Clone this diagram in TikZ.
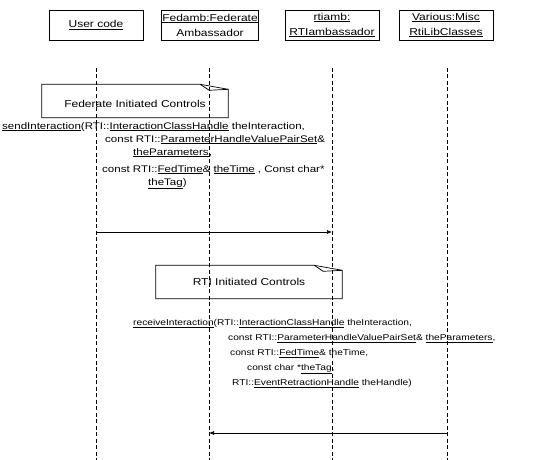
\documentclass[tikz,border=0pt]{standalone}
\usepackage{fontspec}
\setmainfont[FakeStretch=1.2]{Liberation Sans}
\usetikzlibrary{arrows.meta,positioning,calc}

\begin{document}
\begin{tikzpicture}[x=1pt,y=1pt,
  font=\fontsize{10}{15}\selectfont,
  head/.style={draw, line width=0.9pt, minimum width=94pt, minimum height=30pt, align=center, inner sep=1pt},
  life/.style={line width=0.7pt, dash pattern=on 4pt off 2.5pt},
  msg/.style={-{Latex[length=5pt,width=4pt]}, line width=0.7pt},
  note/.style={minimum width=186pt, minimum height=33pt, inner sep=2pt},
  txt/.style={align=left, inner sep=0pt, anchor=north west}
]
\useasboundingbox (0,0) rectangle (533,-460);
% object heads
\node[head] (uc) at (96,-25) {\underline{User code}};
\node[head] (fed) at (210,-25) {\underline{Fedamb:Federate}\\Ambassador};
\node[head] (rti) at (332,-25) {\underline{rtiamb:}\\\underline{RTIambassador}};
\node[head] (misc) at (446,-25) {\underline{Various:Misc}\\\underline{RtiLibClasses}};
% lifelines
\foreach \o/\x in {uc/96,fed/209,rti/332,misc/447}{
  \coordinate (\o-top) at (\x,-68);
  \coordinate (\o-bot) at (\x,-460);
  \draw[life] (\o-top) -- (\o-bot);
}
% federate initiated
\node[note, text height=15pt, text depth=2pt] (fic) at (135,-101) {Federate Initiated Controls};
\draw[line width=0.7pt] (fic.south west) -- (fic.north west) -- ($(fic.north east)+(-28,0)$)
  -- ($(fic.north east)+(0,-5)$) -- (fic.south east) -- cycle;
\draw[line width=0.7pt] ($(fic.north east)+(-28,0)$) -- ($(fic.north east)+(-19,-6)$) -- ($(fic.north east)+(0,-5)$);
\node[txt, font=\fontsize{9.6}{13}\selectfont] (send) at (2,-122) {\underline{sendInteraction}(RTI::\underline{InteractionClassHandle} theInteraction,\\
  \hspace*{103pt}const RTI::\underline{ParameterHandleValuePairSet}\&\\
  \hspace*{131pt}\underline{theParameters},\\[4pt]
  \hspace*{100pt}const RTI::\underline{FedTime}\& \underline{theTime} , Const char*\\
  \hspace*{146pt}\underline{theTag})};
\coordinate (send-y) at (0,-232);
\draw[msg] (uc-top |- send-y) -- (rti-top |- send-y);
% rti initiated
\node[note] (ric) at (249,-282) {RTI Initiated Controls};
\draw[line width=0.7pt] (ric.south west) -- (ric.north west) -- ($(ric.north east)+(-28,0)$)
  -- ($(ric.north east)+(0,-5)$) -- (ric.south east) -- cycle;
\draw[line width=0.7pt] ($(ric.north east)+(-28,0)$) -- ($(ric.north east)+(-19,-6)$) -- ($(ric.north east)+(0,-5)$);
\node[txt, font=\fontsize{8.5}{15}\selectfont] (recv) at (133,-319) {\underline{receiveInteraction}(RTI::\underline{InteractionClassHandle} theInteraction,\\
  \hspace*{95pt}const RTI::\underline{ParameterHandleValuePairSet}\& \underline{theParameters},\\
  \hspace*{97pt}const RTI::\underline{FedTime}\& theTime,\\
  \hspace*{114pt}const char *\underline{theTag},\\
  \hspace*{99pt}RTI::\underline{EventRetractionHandle} theHandle)};
\coordinate (recv-y) at (0,-433);
\draw[msg] (misc-top |- recv-y) -- (fed-top |- recv-y);
\end{tikzpicture}
\end{document}
